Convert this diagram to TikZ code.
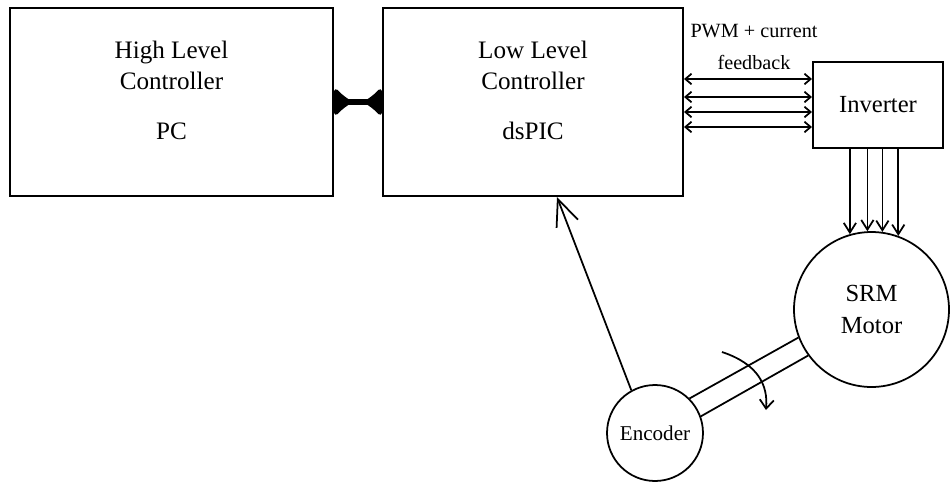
\documentclass[tikz,border=0pt]{standalone}
\usepackage{fontspec}
\setmainfont{Liberation Serif}
\usetikzlibrary{arrows.meta}

\begin{document}
\begin{tikzpicture}[x=0.02cm,y=-0.02cm,line width=1pt]

        \tikzstyle{ctrlbox}=[draw,line width=1.2pt,minimum width=6cm,minimum height=3.76cm,inner sep=0pt]
        \tikzstyle{boxtext}=[align=center,inner sep=0pt,font=\fontsize{14.3}{17.6}\selectfont]
        \tikzstyle{rotor}=[draw,circle,inner sep=0pt,align=center]
        \tikzstyle{sigline}=[{Straight Barb[length=3.5pt,width=6pt]}-{Straight Barb[length=3.5pt,width=6pt]}]
        \tikzstyle{phase}=[-{Straight Barb[length=5.5pt,width=7pt]}]
        \tikzstyle{bus}=[line width=3pt,{Latex[reversed,round,length=11pt,width=19pt]}-{Latex[reversed,round,length=11pt,width=19pt]}]

        \useasboundingbox (0,0) rectangle (951,484);

        %% Controllers
        \node [ctrlbox,minimum width=6.46cm] (hlc) at (171.5,102) {};
        \node [boxtext] (hlctext) at (171.5,90) {High Level\\Controller\\[10.8pt]PC};
        \node [ctrlbox] (llc) at (533,102) {};
        \node [boxtext] (llctext) at (533,90) {Low Level\\Controller\\[10.8pt]dsPIC};

        %% Power side
        \node [draw,line width=1.2pt,minimum width=2.6cm,minimum height=1.72cm,font=\fontsize{14}{17}\selectfont] (inv) at (878,105) {Inverter};
        \node [rotor,minimum size=3.1cm,font=\fontsize{14}{18}\selectfont] (motor) at (871.5,309.5) {SRM\\Motor};
        \node [rotor,minimum size=1.92cm,font=\fontsize{12}{14}\selectfont] (enc) at (655,433) {Encoder};

        %% PC <-> dsPIC
        \draw [bus] (hlc.east) -- (llc.west);

        %% PWM + current feedback
        \node [align=center,inner sep=0pt,font=\fontsize{11.5}{18}\selectfont] (pwm) at (754,47) {PWM + current\\feedback};
        \foreach \y in {79,97,112,127}
            \draw [sigline] (llc.east |- 0,\y) -- (inv.west |- 0,\y);

        %% phases
        \foreach \a in {106,93,82,70}
            \draw [phase] (motor.\a |- inv.south) -- (motor.\a);

        %% shaft
        \draw (enc.45) -- (motor.201);
        \draw (enc.20) -- (motor.216);
        \draw [-{Straight Barb[length=5pt,width=8pt]}] (722,352) .. controls (758,364) and (768,385) .. (766,410);

        %% position feedback
        \draw [-{Straight Barb[length=15pt,width=13pt]}] (enc.119) -- ([xshift=0.48cm]llc.south);

\end{tikzpicture}
\end{document}
